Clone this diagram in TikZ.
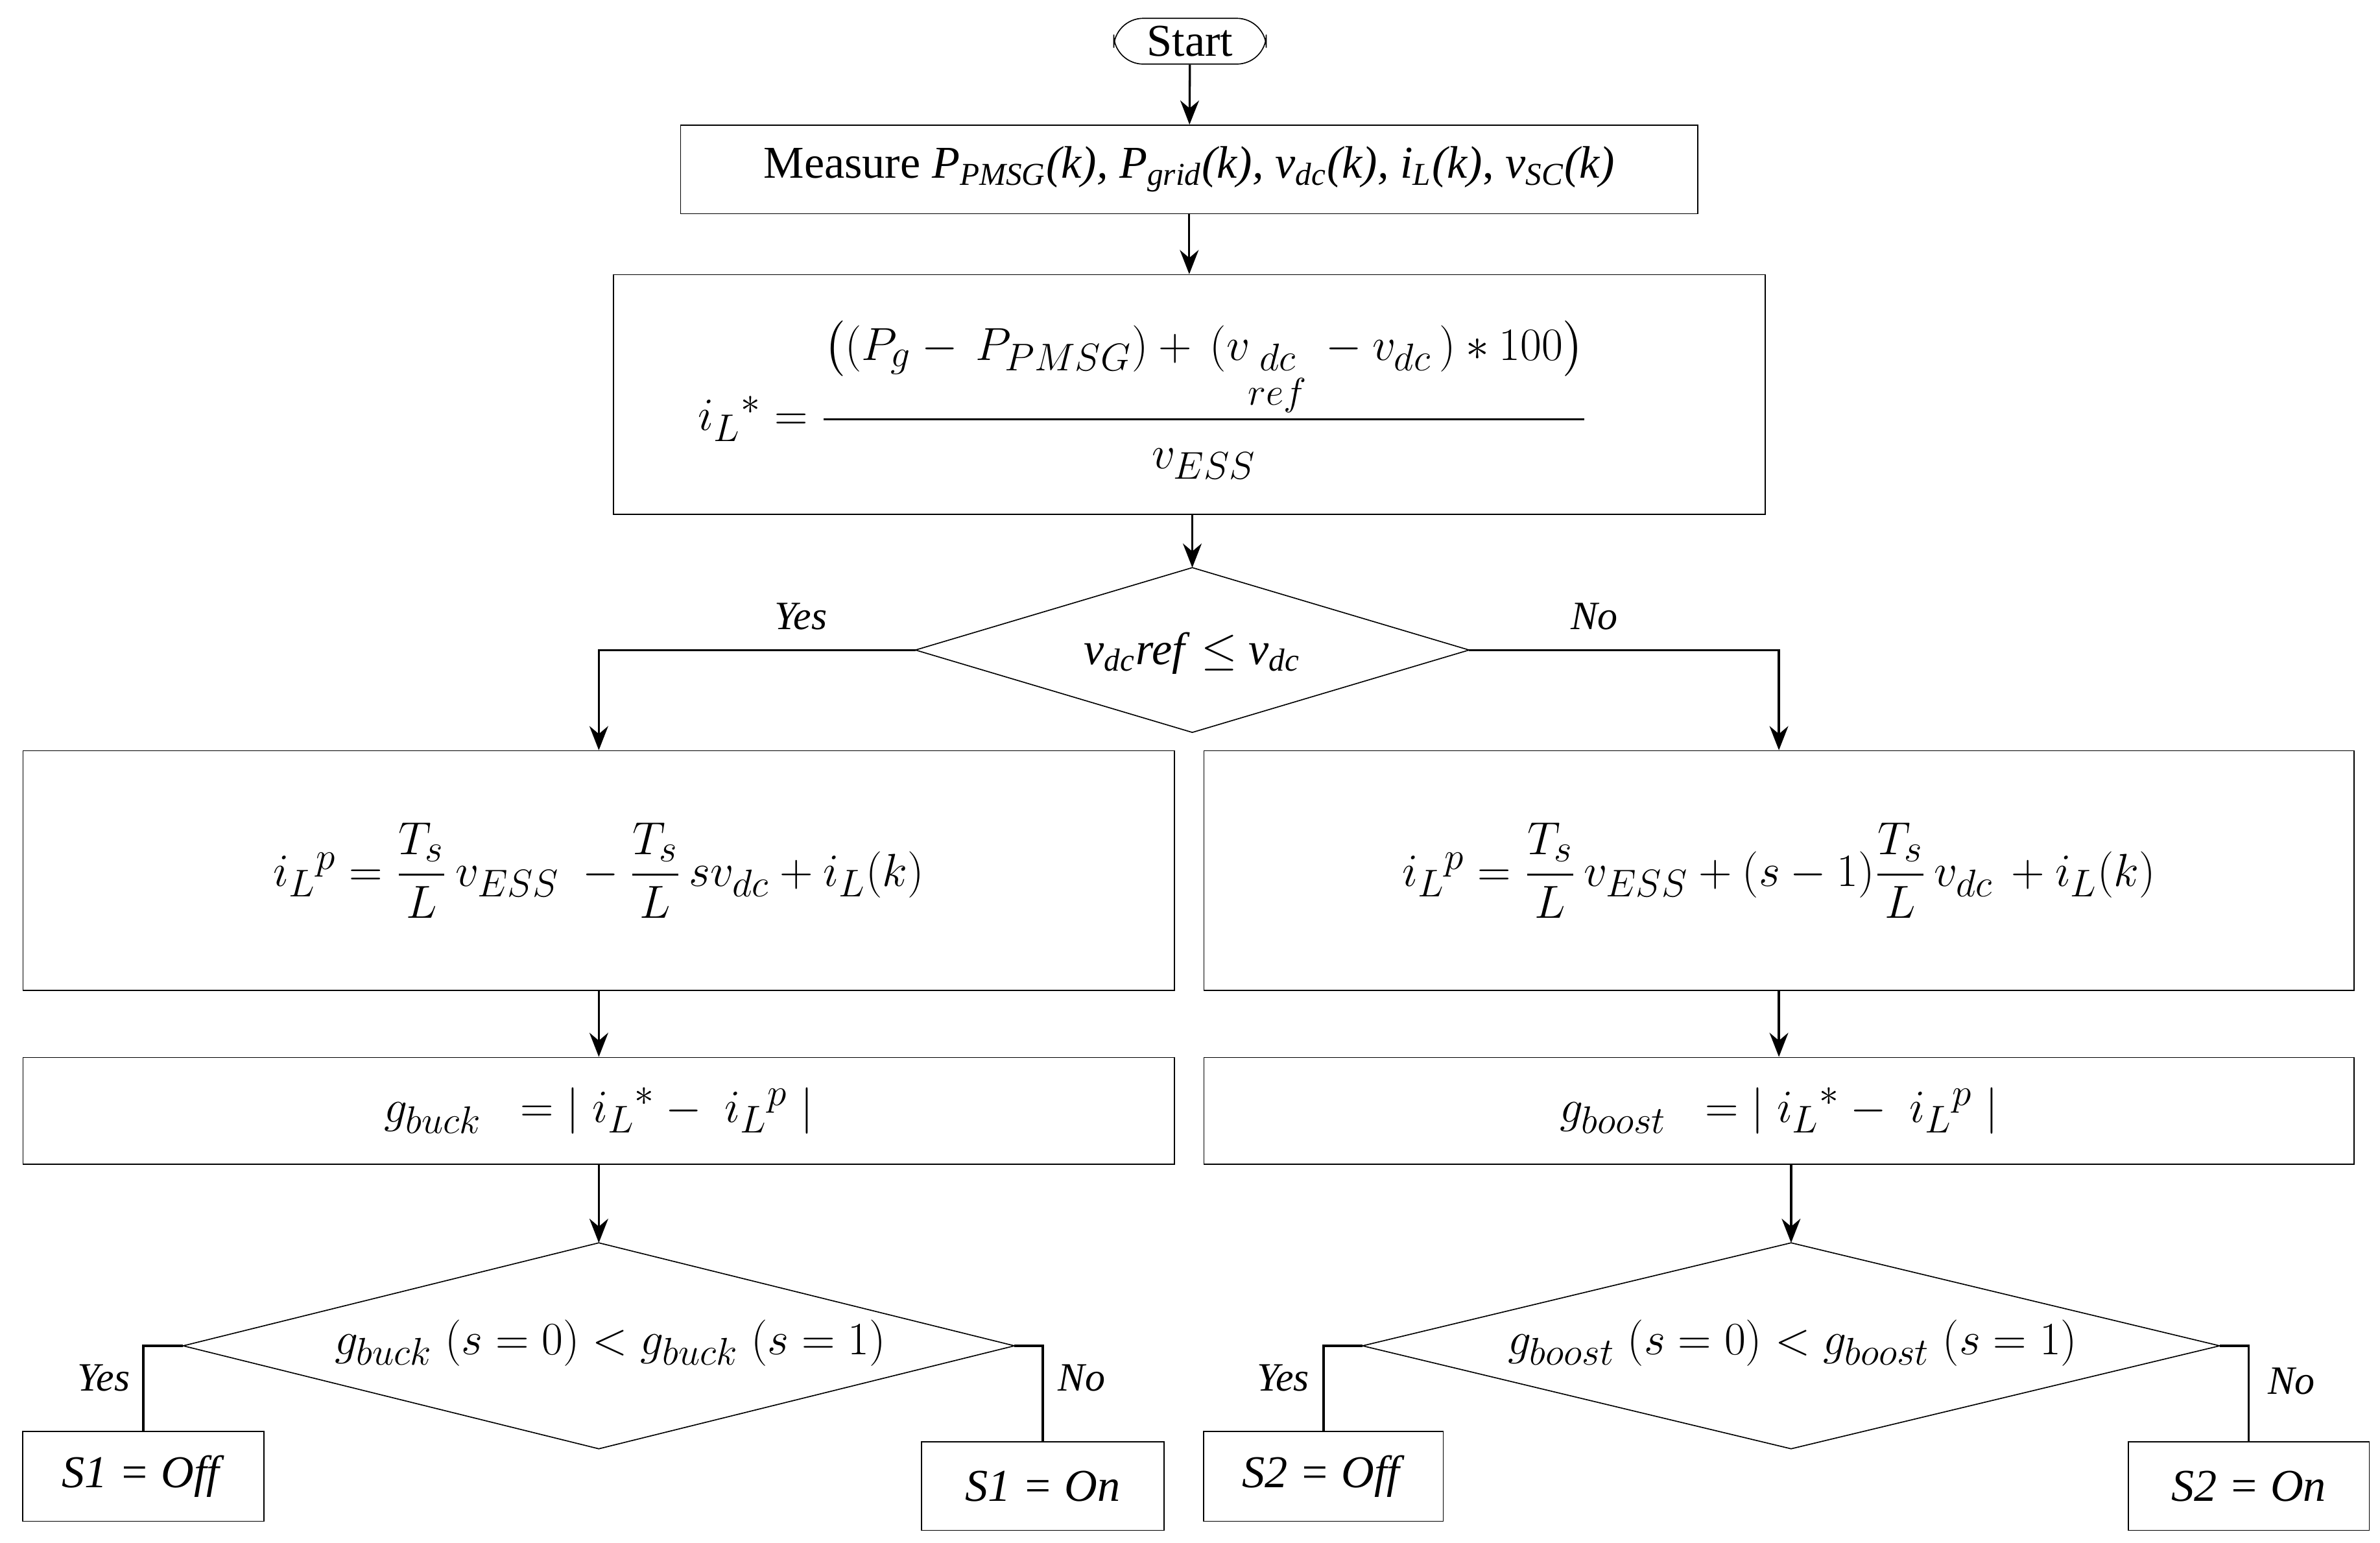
\documentclass[tikz,border=0pt]{standalone}
\usepackage{amsmath}
\usepackage{fontspec}
\setmainfont{Liberation Serif}
\usetikzlibrary{shapes.geometric,arrows.meta}
\begin{document}
\begin{tikzpicture}[x=0.02cm,y=-0.02cm,font=\fontsize{17}{20}\selectfont,
 box/.style={draw,rectangle,inner sep=0pt},
 dia/.style={draw,diamond,inner sep=0pt,outer sep=0pt},
 arr/.style={-{Stealth[length=9pt,width=7pt]},line width=0.8pt},
 ln/.style={line width=0.8pt},
 lab/.style={font=\fontsize{15}{18}\selectfont\itshape}]
\useasboundingbox (0,0) rectangle (1560,1011);
\node[draw,rounded corners=11pt,minimum width=2cm,minimum height=0.6cm,inner sep=0pt] (start) at (780,27) {Start};
\node[box,minimum width=13.34cm,minimum height=1.16cm] (meas) at (779.5,111) {Measure \textit{P\textsubscript{PMSG}(k), P\textsubscript{grid}(k), v\textsubscript{dc}(k), i\textsubscript{L}(k)}, \textit{v\textsubscript{SC}(k)}};
\node[box,minimum width=15.1cm,minimum height=3.14cm] (il) at (779.5,258.5) {};
\node at (770,262) {\fontsize{19}{22}\selectfont $i_L{}^{*} = \dfrac{\big((P_g -\, P_{PMSG}) +\, (v_{\substack{dc\\[1pt] ref}}\, - v_{dc}\,) * 100\big)}{\rule{0pt}{16pt}v_{ESS}}\quad\ $};
\node[dia,aspect=3.36,minimum width=7.26cm,minimum height=2.16cm] (d1) at (781.5,426) {};
\node at (781.5,428) {\textit{v\textsubscript{dc}ref} $\leq$ \textit{v\textsubscript{dc}}};
\node[box,minimum width=15.1cm,minimum height=3.14cm] (lb) at (392.5,570.5) {\fontsize{19}{22}\selectfont $i_L{}^{p} = \dfrac{T_s}{L}\,v_{ESS}\ - \dfrac{T_s}{L}\,sv_{dc} + i_L(k)$};
\node[box,minimum width=15.08cm,minimum height=3.14cm] (rb) at (1166,570.5) {\fontsize{19}{22}\selectfont $i_L{}^{p} = \dfrac{T_s}{L}\,v_{ESS} + (s-1)\dfrac{T_s}{L}\,v_{dc}\, + i_L(k)$};
\node[box,minimum width=15.1cm,minimum height=1.4cm] (lg) at (392.5,728) {\fontsize{19}{22}\selectfont $g_{buck}\ \ = |\; i_L{}^{*} -\ i_L{}^{p}\;|$};
\node[box,minimum width=15.08cm,minimum height=1.4cm] (rg) at (1166,728) {\fontsize{19}{22}\selectfont $g_{boost}\ \ = |\; i_L{}^{*} -\ i_L{}^{p}\;|$};
\node[dia,aspect=4.04,minimum width=10.9cm,minimum height=2.7cm] (d2) at (392.5,882) {};
\node at (400,880) {\fontsize{19}{22}\selectfont $g_{buck}\ (s=0) < g_{buck}\ (s=1)$};
\node[dia,aspect=4.16,minimum width=11.24cm,minimum height=2.7cm] (d3) at (1174,882) {};
\node at (1175,880) {\fontsize{19}{22}\selectfont $g_{boost}\ (s=0) < g_{boost}\ (s=1)$};
\node[box,minimum width=3.16cm,minimum height=1.18cm] (s1off) at (94,967.5) {\textit{S1 = Off}};
\node[box,minimum width=3.18cm,minimum height=1.16cm] (s1on) at (683.5,974) {\textit{S1 = On}};
\node[box,minimum width=3.14cm,minimum height=1.18cm] (s2off) at (867.5,967.5) {\textit{S2 = Off}};
\node[box,minimum width=3.16cm,minimum height=1.16cm] (s2on) at (1474,974) {\textit{S2 = On}};
\draw[arr] (start) -- (meas);
\draw[arr] (meas) -- (meas|-il.north);
\draw[arr] (il.south-|d1) -- (d1.north);
\draw[arr] (d1.west) -| (lb.north);
\draw[arr] (d1.east) -| (rb.north);
\draw[arr] (lb) -- (lg);
\draw[arr] (rb) -- (rg);
\draw[arr] (lg) -- (d2.north);
\draw[arr] (rg.south-|d3) -- (d3.north);
\draw[ln] (d2.west) -| (s1off.north);
\draw[ln] (d2.east) -| (s1on.north);
\draw[ln] (d3.west) -| (s2off.north);
\draw[ln] (d3.east) -| (s2on.north);
\node[lab] at (525,404) {Yes};
\node[lab] at (1045,404) {No};
\node[lab] at (68,903) {Yes};
\node[lab] at (709,903) {No};
\node[lab] at (841,903) {Yes};
\node[lab] at (1502,905) {No};
\end{tikzpicture}
\end{document}
